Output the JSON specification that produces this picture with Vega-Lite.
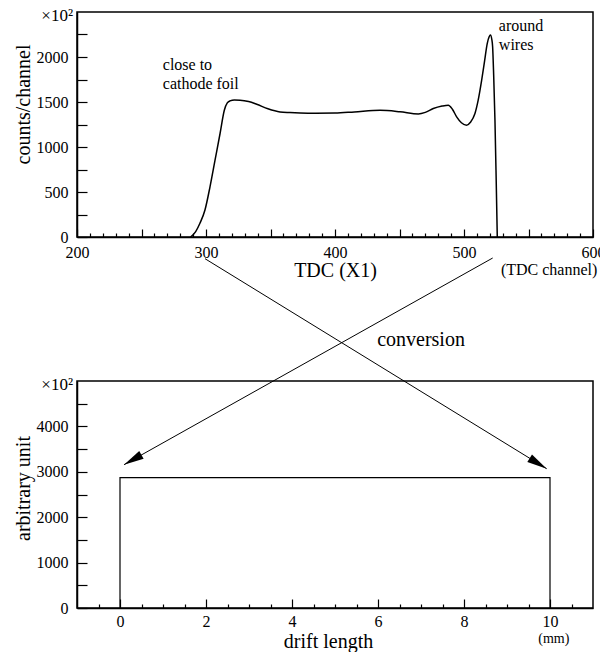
{
  "$schema": "https://vega.github.io/schema/vega-lite/v6.json",
  "background": "white",
  "padding": {"left": 12, "top": 6, "right": 0, "bottom": 0},
  "bounds": "flush",
  "spacing": 144,
  "config": {
    "font": "Liberation Serif",
    "view": {"stroke": "black", "strokeWidth": 1.5},
    "axis": {
      "labelFont": "Liberation Serif", "titleFont": "Liberation Serif",
      "labelFontSize": 16, "titleFontSize": 20, "titleFontWeight": "normal",
      "labelColor": "black", "titleColor": "black",
      "domainColor": "black", "domainWidth": 1.5,
      "tickColor": "black", "tickWidth": 1.2,
      "grid": false, "labelFlush": false, "labelOverlap": false, "format": "d"
    },
    "text": {"font": "Liberation Serif", "color": "black"}
  },
  "datasets": {
    "curve": [
      {"t": 288, "c": 0}, {"t": 292, "c": 60}, {"t": 295.3, "c": 152}, {"t": 299.2, "c": 300},
      {"t": 303.1, "c": 558}, {"t": 307, "c": 854}, {"t": 310.9, "c": 1150}, {"t": 314.2, "c": 1409},
      {"t": 316.5, "c": 1490}, {"t": 318.6, "c": 1512}, {"t": 322, "c": 1522}, {"t": 326.4, "c": 1520},
      {"t": 333, "c": 1505}, {"t": 339.3, "c": 1475}, {"t": 348, "c": 1425}, {"t": 357.4, "c": 1390},
      {"t": 365, "c": 1383}, {"t": 372.9, "c": 1378}, {"t": 385, "c": 1375}, {"t": 400, "c": 1377},
      {"t": 415, "c": 1390}, {"t": 435, "c": 1408}, {"t": 450.4, "c": 1392}, {"t": 464.6, "c": 1368},
      {"t": 470, "c": 1385}, {"t": 476.2, "c": 1427}, {"t": 483, "c": 1455}, {"t": 487.8, "c": 1465},
      {"t": 491, "c": 1420}, {"t": 494.3, "c": 1335}, {"t": 498, "c": 1270}, {"t": 502, "c": 1242},
      {"t": 505, "c": 1275}, {"t": 508.5, "c": 1372}, {"t": 511, "c": 1520}, {"t": 513.7, "c": 1742},
      {"t": 516, "c": 1960}, {"t": 518, "c": 2149}, {"t": 519.5, "c": 2225}, {"t": 520.5, "c": 2245},
      {"t": 521.5, "c": 2200}, {"t": 522.2, "c": 2111}, {"t": 523, "c": 1800}, {"t": 524, "c": 1298},
      {"t": 525, "c": 600}, {"t": 525.8, "c": 0}
    ],
    "topNotes": [
      {"x": 266.5, "y": 1852, "label": "close to"},
      {"x": 266.5, "y": 1650, "label": "cathode foil"},
      {"x": 527, "y": 2288, "label": "around"},
      {"x": 527, "y": 2082, "label": "wires"}
    ],
    "box": [
      {"d": 0, "a": 0, "o": 0}, {"d": 0, "a": 2870, "o": 1},
      {"d": 10, "a": 2870, "o": 2}, {"d": 10, "a": 0, "o": 3}
    ],
    "arrows": [
      {"id": "a", "x": 1.977, "y": 7694, "o": 0}, {"id": "a", "x": 9.923, "y": 3068, "o": 1},
      {"id": "b", "x": 8.667, "y": 7709, "o": 0}, {"id": "b", "x": 0.093, "y": 3156, "o": 1}
    ]
  },
  "vconcat": [
    {
      "width": 516, "height": 225,
      "resolve": {"axis": {"x": "independent", "y": "independent"}},
      "layer": [
        {
          "data": {"name": "curve"},
          "mark": {"type": "line", "color": "black", "strokeWidth": 1.5, "interpolate": "monotone"},
          "encoding": {
            "x": {"field": "t", "type": "quantitative",
                  "scale": {"domain": [200, 600], "nice": false, "zero": false},
                  "axis": {"orient": "bottom", "values": [200, 250, 300, 350, 400, 450, 500, 550, 600],
                           "tickSize": -8, "labelPadding": 15,
                           "labelExpr": "datum.value % 100 === 0 ? datum.label : ''",
                           "title": "TDC  (X1)", "titlePadding": 0}},
            "y": {"field": "c", "type": "quantitative",
                  "scale": {"domain": [0, 2500], "nice": false},
                  "axis": {"orient": "left", "values": [0, 250, 500, 750, 1000, 1250, 1500, 1750, 2000, 2250],
                           "tickSize": -10, "labelPadding": 19,
                           "labelExpr": "datum.value % 500 === 0 ? datum.label : ''",
                           "title": "counts/channel", "titlePadding": 3, "titleY": 92}}
          }
        },
        {
          "data": {"name": "topNotes"},
          "mark": {"type": "text", "font": "Liberation Serif", "fontSize": 16, "align": "left", "baseline": "alphabetic"},
          "encoding": {
            "x": {"field": "x", "type": "quantitative",
                  "axis": {"orient": "bottom", "values": [210, 220, 230, 240, 260, 270, 280, 290, 310, 320, 330, 340, 360, 370, 380, 390, 410, 420, 430, 440, 460, 470, 480, 490, 510, 520, 530, 540, 560, 570, 580, 590],
                           "tickSize": -4, "labels": false, "domain": false, "title": null}},
            "y": {"field": "y", "type": "quantitative", "axis": null},
            "text": {"field": "label"}
          }
        },
        {
          "data": {"values": [{"x": 200, "y": 2500, "label": "×10²"}]},
          "mark": {"type": "text", "font": "Liberation Serif", "fontSize": 17, "align": "right", "baseline": "alphabetic", "dx": -4, "dy": 9},
          "encoding": {
            "x": {"field": "x", "type": "quantitative", "axis": null},
            "y": {"field": "y", "type": "quantitative", "axis": null},
            "text": {"field": "label"}
          }
        },
        {
          "data": {"values": [{"x": 566, "y": 0, "label": "(TDC channel)"}]},
          "mark": {"type": "text", "font": "Liberation Serif", "fontSize": 16, "align": "center", "baseline": "middle", "dy": 33},
          "encoding": {
            "x": {"field": "x", "type": "quantitative", "axis": null},
            "y": {"field": "y", "type": "quantitative", "axis": null},
            "text": {"field": "label"}
          }
        }
      ]
    },
    {
      "width": 516, "height": 227,
      "resolve": {"axis": {"x": "independent", "y": "independent"}},
      "layer": [
        {
          "data": {"name": "box"},
          "mark": {"type": "line", "color": "black", "strokeWidth": 1.2},
          "encoding": {
            "x": {"field": "d", "type": "quantitative",
                  "scale": {"domain": [-1, 11], "nice": false, "zero": false},
                  "axis": {"orient": "bottom", "values": [0, 2, 4, 6, 8, 10],
                           "tickSize": -9, "labelPadding": 14,
                           "title": "drift length", "titlePadding": 2, "titleX": 251}},
            "y": {"field": "a", "type": "quantitative",
                  "scale": {"domain": [0, 5000], "nice": false},
                  "axis": {"orient": "left", "values": [0, 500, 1000, 1500, 2000, 2500, 3000, 3500, 4000, 4500],
                           "tickSize": -10, "labelPadding": 19,
                           "labelExpr": "datum.value % 1000 === 0 ? datum.label : ''",
                           "title": "arbitrary unit", "titlePadding": 3, "titleY": 107}},
            "order": {"field": "o"}
          }
        },
        {
          "data": {"name": "arrows"},
          "mark": {"type": "line", "color": "black", "strokeWidth": 1},
          "encoding": {
            "x": {"field": "x", "type": "quantitative",
                  "axis": {"orient": "bottom", "values": [-0.5, 0.5, 1, 1.5, 2.5, 3, 3.5, 4.5, 5, 5.5, 6.5, 7, 7.5, 8.5, 9, 9.5, 10.5],
                           "tickSize": -4, "labels": false, "domain": false, "title": null}},
            "y": {"field": "y", "type": "quantitative", "axis": null},
            "detail": {"field": "id"},
            "order": {"field": "o"}
          }
        },
        {
          "data": {"name": "arrows"},
          "transform": [{"filter": "datum.id === 'a' && datum.o === 1"}],
          "mark": {"type": "point", "shape": "M0,0 L-2,-0.45 L-2,0.45 Z", "filled": true, "color": "black", "opacity": 1, "size": 400, "angle": 31.6},
          "encoding": {
            "x": {"field": "x", "type": "quantitative", "axis": null},
            "y": {"field": "y", "type": "quantitative", "axis": null}
          }
        },
        {
          "data": {"name": "arrows"},
          "transform": [{"filter": "datum.id === 'b' && datum.o === 1"}],
          "mark": {"type": "point", "shape": "M0,0 L-2,-0.45 L-2,0.45 Z", "filled": true, "color": "black", "opacity": 1, "size": 400, "angle": 150.7},
          "encoding": {
            "x": {"field": "x", "type": "quantitative", "axis": null},
            "y": {"field": "y", "type": "quantitative", "axis": null}
          }
        },
        {
          "data": {"values": [{"x": 7.0, "y": 5771, "label": "conversion"}]},
          "mark": {"type": "text", "font": "Liberation Serif", "fontSize": 20, "align": "center", "baseline": "alphabetic"},
          "encoding": {
            "x": {"field": "x", "type": "quantitative", "axis": null},
            "y": {"field": "y", "type": "quantitative", "axis": null},
            "text": {"field": "label"}
          }
        },
        {
          "data": {"values": [{"x": -1, "y": 5000, "label": "×10²"}]},
          "mark": {"type": "text", "font": "Liberation Serif", "fontSize": 17, "align": "right", "baseline": "alphabetic", "dx": -4, "dy": 9},
          "encoding": {
            "x": {"field": "x", "type": "quantitative", "axis": null},
            "y": {"field": "y", "type": "quantitative", "axis": null},
            "text": {"field": "label"}
          }
        },
        {
          "data": {"values": [{"x": 10.09, "y": 0, "label": "(mm)"}]},
          "mark": {"type": "text", "font": "Liberation Serif", "fontSize": 14, "align": "center", "baseline": "middle", "dy": 31},
          "encoding": {
            "x": {"field": "x", "type": "quantitative", "axis": null},
            "y": {"field": "y", "type": "quantitative", "axis": null},
            "text": {"field": "label"}
          }
        }
      ]
    }
  ]
}
